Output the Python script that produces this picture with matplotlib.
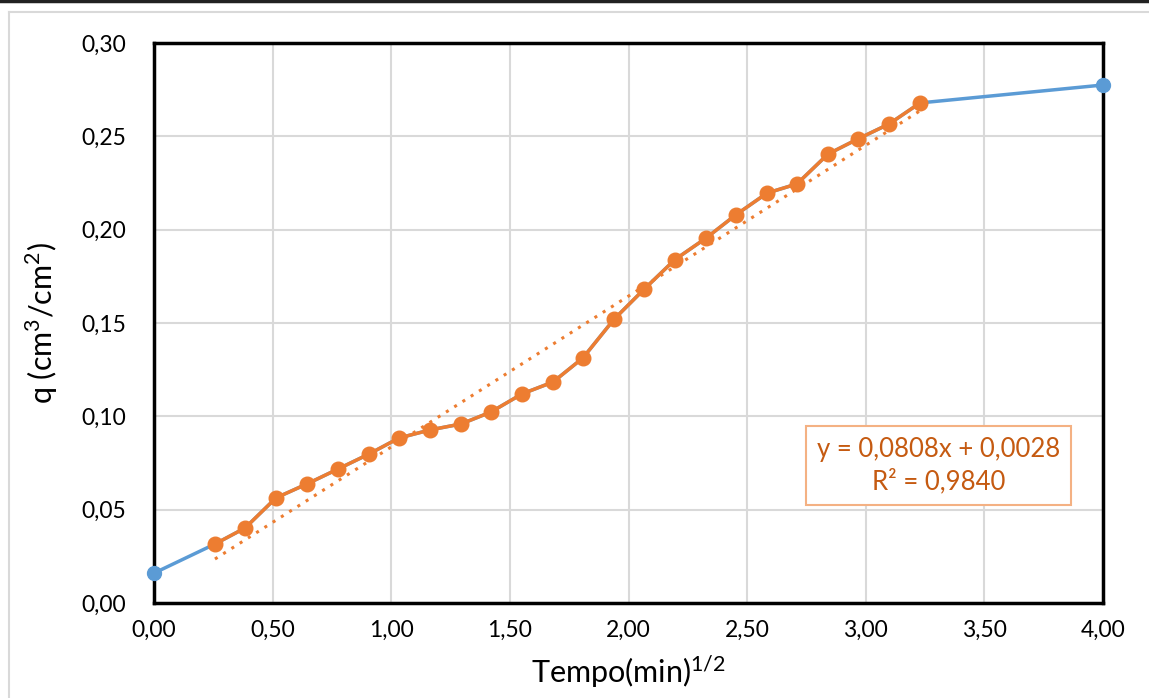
import matplotlib
matplotlib.use("Agg")
import matplotlib.pyplot as plt
from matplotlib.lines import Line2D
import numpy as np

# --- dados ---
x_ends = [0.0, 4.0]
q_ends = [0.016, 0.2775]

x_lin = [0.257, 0.384, 0.514, 0.645, 0.776, 0.906, 1.033, 1.163, 1.294, 1.420,
         1.551, 1.682, 1.808, 1.939, 2.065, 2.196, 2.327, 2.453, 2.584, 2.710,
         2.841, 2.967, 3.098, 3.229]
q_lin = [0.0316, 0.0402, 0.0563, 0.0638, 0.0718, 0.0798, 0.0884, 0.0927, 0.0959, 0.1023,
         0.1120, 0.1184, 0.1313, 0.1520, 0.1680, 0.1840, 0.1955, 0.2080, 0.2196, 0.2245,
         0.2405, 0.2486, 0.2566, 0.2679]

slope = 0.0808
intercept = 0.0028
r2 = 0.9840

x_ticks = [0.0, 0.5, 1.0, 1.5, 2.0, 2.5, 3.0, 3.5, 4.0]
y_ticks = [0.0, 0.05, 0.10, 0.15, 0.20, 0.25, 0.30]

blue = "#5B9BD5"
orange = "#ED7D31"
dark_orange = "#C55A11"

plt.rcParams['font.family'] = ['Lato', 'DejaVu Sans']
plt.rcParams['mathtext.fontset'] = 'custom'
plt.rcParams['mathtext.rm'] = 'Lato'

fig = plt.figure(figsize=(11.49, 6.98), dpi=100)
ax = fig.add_axes([154 / 1149, 1 - 603 / 698, (1103 - 154) / 1149, (603 - 43) / 698])

# moldura do gráfico (estilo Excel)
fig.add_artist(Line2D([0, 1], [1 - 1 / 698, 1 - 1 / 698], color="#222222", lw=2.5, transform=fig.transFigure))
fig.add_artist(Line2D([9 / 1149, 1], [1 - 12 / 698, 1 - 12 / 698], color="#D9D9D9", lw=1.5, transform=fig.transFigure))
fig.add_artist(Line2D([9 / 1149, 9 / 1149], [0, 1 - 12 / 698], color="#D9D9D9", lw=1.5, transform=fig.transFigure))

# série completa (azul)
x_all = [x_ends[0]] + x_lin + [x_ends[1]]
q_all = [q_ends[0]] + q_lin + [q_ends[1]]
ax.plot(x_all, q_all, color=blue, lw=2.5, zorder=3, clip_on=False)
ax.plot(x_ends, q_ends, 'o', color=blue, ms=10, zorder=6, clip_on=False)

# trecho linear (laranja)
ax.plot(x_lin, q_lin, '-o', color=orange, lw=2.5, ms=10.5, zorder=5)

# linha de tendência
xt = np.array([x_lin[0], x_lin[-1]])
ax.plot(xt, slope * xt + intercept, color=orange, lw=2.2, ls=(0, (1, 2.2)), zorder=4)

txt = ("y = " + f"{slope:.4f}".replace('.', ',') + "x + " + f"{intercept:.4f}".replace('.', ',')
       + "\nR² = " + f"{r2:.4f}".replace('.', ','))
ax.text(0.8267, 0.2455, txt, transform=ax.transAxes, ha='center', va='center',
        fontsize=18.5, color=dark_orange, linespacing=1.3, zorder=7,
        bbox=dict(boxstyle='square,pad=0.42', fc='white', ec="#F4B183", lw=1.5))

ax.set_xlim(0, 4)
ax.set_ylim(0, 0.30)
ax.set_xticks(x_ticks)
ax.set_yticks(y_ticks)
ax.set_xticklabels([f"{v:.2f}".replace('.', ',') for v in x_ticks], fontsize=16.5)
ax.set_yticklabels([f"{v:.2f}".replace('.', ',') for v in y_ticks], fontsize=16.5)
ax.tick_params(axis='y', length=0, pad=20)
ax.tick_params(axis='x', length=0, pad=12)
ax.grid(True, color="#D9D9D9", lw=1.5)
ax.set_axisbelow(True)
for s in ax.spines.values():
    s.set_linewidth(2.5)
    s.set_color("black")
    s.set_zorder(5.5)

ax.set_xlabel("Tempo(min)$^{1/2}$", fontsize=22)
ax.set_ylabel("q (cm$^3$/cm$^2$)", fontsize=22)
ax.xaxis.set_label_coords(0.5, -0.089)
ax.yaxis.set_label_coords(-0.099, 0.5)

fig.savefig("out.png", dpi=100)
